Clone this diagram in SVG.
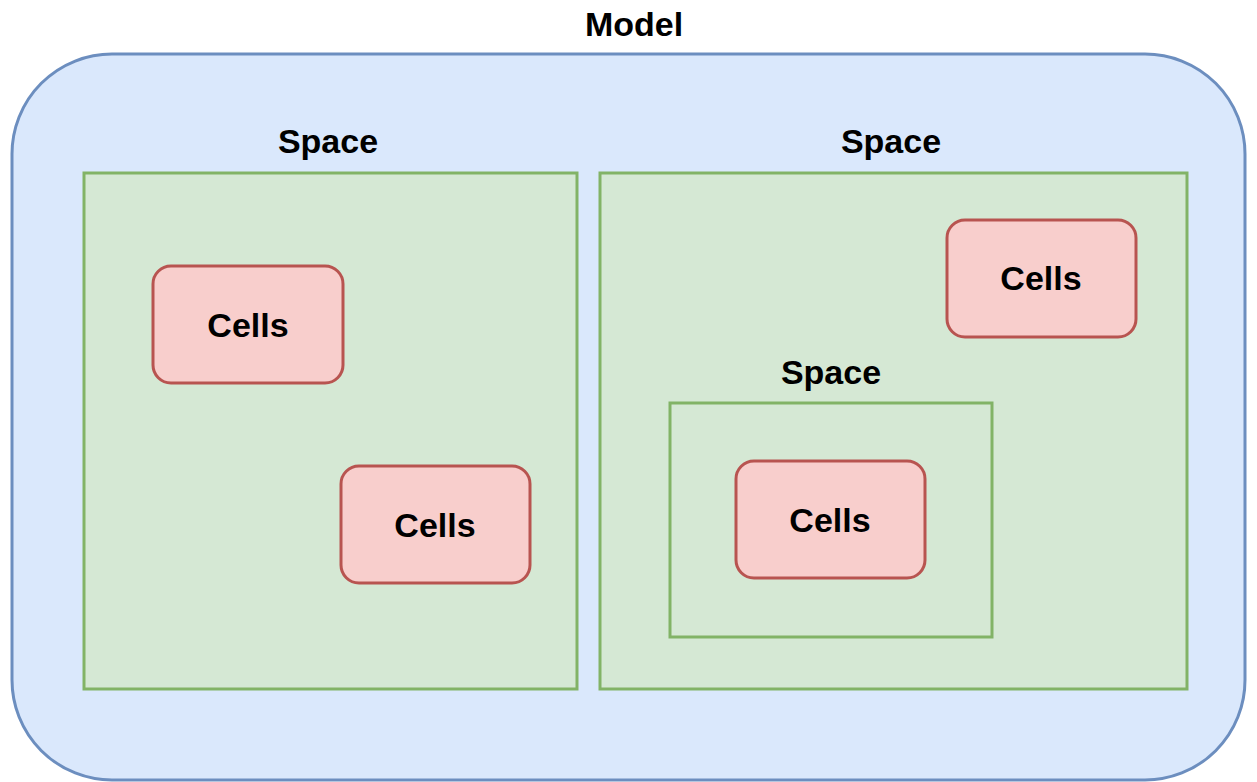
<svg xmlns="http://www.w3.org/2000/svg" width="1257" height="782" viewBox="0 0 1257 782">
<style>
.model{fill:#dae8fc;stroke:#6c8ebf;stroke-width:3}
.space{fill:#d5e8d4;stroke:#82b366;stroke-width:3}
.cell{fill:#f8cecc;stroke:#b85450;stroke-width:3}
text{font-family:"Liberation Sans",Arial,sans-serif;font-weight:bold;font-size:34px;fill:#000;text-anchor:middle}
</style>
<rect width="1257" height="782" fill="#fff"/>
<g id="model">
<rect class="model" x="12" y="54" width="1233" height="726" rx="100" ry="100"/>
<text x="634" y="36">Model</text>
</g>
<g id="space-left">
<rect class="space" x="84" y="173" width="493" height="516"/>
<text x="328" y="153">Space</text>
</g>
<g id="space-right">
<rect class="space" x="600" y="173" width="587" height="516"/>
<text x="891" y="153">Space</text>
</g>
<g id="space-inner">
<rect class="space" x="670" y="403" width="322" height="234"/>
<text x="831" y="384">Space</text>
</g>
<g id="cells-1">
<rect class="cell" x="153" y="266" width="190" height="117" rx="18"/>
<text x="248" y="337">Cells</text>
</g>
<g id="cells-2">
<rect class="cell" x="341" y="466" width="189" height="117" rx="18"/>
<text x="435" y="537">Cells</text>
</g>
<g id="cells-3">
<rect class="cell" x="947" y="220" width="189" height="117" rx="18"/>
<text x="1041" y="290">Cells</text>
</g>
<g id="cells-4">
<rect class="cell" x="736" y="461" width="189" height="117" rx="18"/>
<text x="830" y="532">Cells</text>
</g>
<g id="connectors"></g>
</svg>
